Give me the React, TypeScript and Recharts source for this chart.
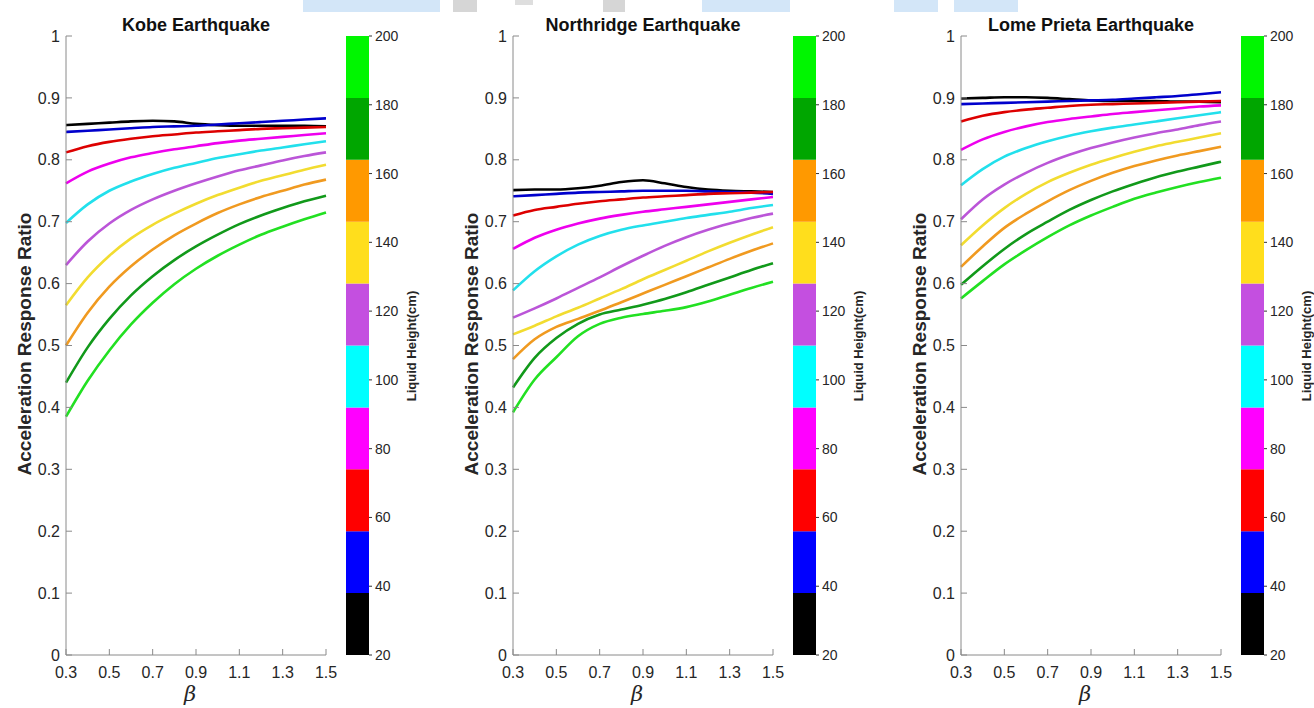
import React from 'react';
import { LineChart, Line, XAxis, YAxis, BarChart, Bar } from 'recharts';

// ---------- data ----------
const betas = [0.3, 0.4, 0.5, 0.6, 0.7, 0.8, 0.9, 1.0, 1.1, 1.2, 1.3, 1.4, 1.5];
const xTicks = [0.3, 0.5, 0.7, 0.9, 1.1, 1.3, 1.5];
const yTicks = [0, 0.1, 0.2, 0.3, 0.4, 0.5, 0.6, 0.7, 0.8, 0.9, 1];
const heights = [20, 40, 60, 80, 100, 120, 140, 160, 180, 200];
const cbTicks = [20, 40, 60, 80, 100, 120, 140, 160, 180, 200];
const titles = ['Kobe Earthquake', 'Northridge Earthquake', 'Lome Prieta Earthquake'];

// Kobe
const kobe20 = [0.856, 0.858, 0.860, 0.862, 0.863, 0.862, 0.858, 0.856, 0.855, 0.855, 0.855, 0.855, 0.854];
const kobe40 = [0.845, 0.847, 0.849, 0.851, 0.853, 0.854, 0.855, 0.857, 0.859, 0.861, 0.863, 0.865, 0.867];
const kobe60 = [0.812, 0.822, 0.829, 0.834, 0.838, 0.841, 0.844, 0.846, 0.848, 0.850, 0.851, 0.852, 0.853];
const kobe80 = [0.762, 0.781, 0.794, 0.804, 0.811, 0.817, 0.822, 0.827, 0.831, 0.834, 0.837, 0.840, 0.843];
const kobe100 = [0.698, 0.728, 0.750, 0.765, 0.777, 0.787, 0.795, 0.803, 0.809, 0.815, 0.820, 0.825, 0.830];
const kobe120 = [0.630, 0.668, 0.697, 0.719, 0.736, 0.750, 0.762, 0.773, 0.783, 0.791, 0.799, 0.806, 0.812];
const kobe140 = [0.565, 0.610, 0.645, 0.673, 0.695, 0.713, 0.729, 0.743, 0.755, 0.766, 0.775, 0.784, 0.792];
const kobe160 = [0.500, 0.553, 0.595, 0.628, 0.655, 0.678, 0.697, 0.714, 0.728, 0.740, 0.750, 0.760, 0.768];
const kobe180 = [0.440, 0.497, 0.543, 0.581, 0.612, 0.638, 0.660, 0.679, 0.696, 0.710, 0.722, 0.733, 0.742];
const kobe200 = [0.385, 0.443, 0.492, 0.534, 0.569, 0.599, 0.624, 0.645, 0.663, 0.679, 0.692, 0.704, 0.715];

// Northridge
const north20 = [0.751, 0.752, 0.752, 0.754, 0.758, 0.764, 0.767, 0.762, 0.756, 0.752, 0.750, 0.749, 0.748];
const north40 = [0.741, 0.743, 0.745, 0.747, 0.748, 0.749, 0.750, 0.750, 0.750, 0.749, 0.748, 0.747, 0.745];
const north60 = [0.710, 0.719, 0.724, 0.729, 0.733, 0.736, 0.739, 0.741, 0.743, 0.745, 0.746, 0.747, 0.748];
const north80 = [0.656, 0.674, 0.687, 0.697, 0.705, 0.711, 0.716, 0.720, 0.724, 0.728, 0.732, 0.736, 0.740];
const north100 = [0.589, 0.620, 0.644, 0.663, 0.677, 0.687, 0.694, 0.700, 0.706, 0.711, 0.716, 0.722, 0.727];
const north120 = [0.545, 0.560, 0.576, 0.593, 0.610, 0.628, 0.645, 0.661, 0.675, 0.687, 0.697, 0.706, 0.713];
const north140 = [0.518, 0.532, 0.547, 0.561, 0.576, 0.591, 0.607, 0.622, 0.637, 0.652, 0.666, 0.679, 0.691];
const north160 = [0.478, 0.510, 0.530, 0.543, 0.556, 0.570, 0.584, 0.598, 0.612, 0.626, 0.640, 0.653, 0.665];
const north180 = [0.432, 0.480, 0.512, 0.535, 0.550, 0.558, 0.566, 0.575, 0.586, 0.598, 0.610, 0.622, 0.633];
const north200 = [0.392, 0.445, 0.481, 0.515, 0.535, 0.545, 0.551, 0.556, 0.562, 0.571, 0.582, 0.593, 0.603];

// Lome Prieta
const lome20 = [0.899, 0.900, 0.901, 0.901, 0.900, 0.898, 0.896, 0.895, 0.895, 0.895, 0.894, 0.894, 0.893];
const lome40 = [0.890, 0.891, 0.892, 0.893, 0.894, 0.895, 0.896, 0.897, 0.899, 0.901, 0.903, 0.906, 0.909];
const lome60 = [0.862, 0.871, 0.877, 0.881, 0.884, 0.887, 0.889, 0.890, 0.891, 0.892, 0.893, 0.894, 0.895];
const lome80 = [0.816, 0.833, 0.845, 0.854, 0.861, 0.866, 0.870, 0.874, 0.877, 0.880, 0.883, 0.886, 0.888];
const lome100 = [0.759, 0.785, 0.805, 0.819, 0.830, 0.839, 0.846, 0.852, 0.857, 0.862, 0.867, 0.872, 0.877];
const lome120 = [0.704, 0.736, 0.760, 0.779, 0.795, 0.808, 0.819, 0.828, 0.836, 0.843, 0.849, 0.856, 0.862];
const lome140 = [0.662, 0.694, 0.722, 0.745, 0.764, 0.779, 0.792, 0.803, 0.813, 0.822, 0.829, 0.836, 0.843];
const lome160 = [0.627, 0.660, 0.690, 0.713, 0.733, 0.751, 0.766, 0.779, 0.790, 0.799, 0.807, 0.814, 0.821];
const lome180 = [0.598, 0.628, 0.656, 0.680, 0.700, 0.719, 0.735, 0.749, 0.761, 0.772, 0.781, 0.789, 0.797];
const lome200 = [0.576, 0.604, 0.631, 0.654, 0.675, 0.694, 0.710, 0.724, 0.737, 0.747, 0.756, 0.764, 0.771];

const kobeSeries = [kobe20, kobe40, kobe60, kobe80, kobe100, kobe120, kobe140, kobe160, kobe180, kobe200];
const northSeries = [north20, north40, north60, north80, north100, north120, north140, north160, north180, north200];
const lomeSeries = [lome20, lome40, lome60, lome80, lome100, lome120, lome140, lome160, lome180, lome200];

// ---------- styles ----------
const lineColors = ['#000000', '#0000cc', '#dd0000', '#ee00ee', '#22e0ec', '#bb55d8', '#f2dc30', '#f09a20', '#11991a', '#22e022'];
const bandColors = ['#000000', '#0000ff', '#ff0000', '#ff00ff', '#00ffff', '#c44fe0', '#ffde1c', '#ff9900', '#00a600', '#00f600'];
const FONT = '"Liberation Sans", Arial, sans-serif';
const tickStyle = { fill: '#262626', fontSize: 16, fontFamily: FONT };
const cbTickStyle = { fill: '#262626', fontSize: 14, fontFamily: FONT };

function buildRows(series: number[][]) {
  return betas.map((b, i) => {
    const row: Record<string, number> = { beta: b };
    heights.forEach((h, k) => {
      row['h' + h] = series[k][i];
    });
    return row;
  });
}

const fmtY = (v: number) => String(Math.round(v * 10) / 10);
const fmtX = (v: number) => v.toFixed(1);
const blank = () => '';

function Panel({ series, offset, title }: { series: number[][]; offset: number; title: string }) {
  const rows = buildRows(series);
  const cbRow: Record<string, any> = { n: 'c', base: 20 };
  heights.forEach((h) => (cbRow['b' + h] = 18));
  return (
    <>
      <div style={{ position: 'absolute', left: offset, top: 0 }}>
        <LineChart width={340} height={708} data={rows} margin={{ top: 36, right: 14, bottom: 23, left: 26 }}>
          <XAxis
            dataKey="beta"
            type="number"
            domain={[0.3, 1.5]}
            ticks={xTicks}
            tickFormatter={fmtX}
            tickSize={-6}
            tickMargin={18}
            height={30}
            interval={0}
            axisLine={{ stroke: '#8a8a8a' }}
            tickLine={{ stroke: '#8a8a8a' }}
            tick={tickStyle}
          />
          <XAxis
            xAxisId="t"
            orientation="top"
            type="number"
            domain={[0.3, 1.5]}
            ticks={xTicks}
            tickFormatter={blank}
            tickSize={-6}
            height={0}
            interval={0}
            axisLine={{ stroke: '#666' }}
            tickLine={{ stroke: '#666' }}
          />
          <YAxis
            type="number"
            domain={[0, 1]}
            ticks={yTicks}
            tickFormatter={fmtY}
            tickSize={-6}
            tickMargin={12}
            width={40}
            interval={0}
            axisLine={{ stroke: '#8a8a8a' }}
            tickLine={{ stroke: '#8a8a8a' }}
            tick={tickStyle}
          />
          <YAxis
            yAxisId="r"
            orientation="right"
            type="number"
            domain={[0, 1]}
            ticks={yTicks}
            tickFormatter={blank}
            tickSize={-6}
            width={0}
            interval={0}
            axisLine={{ stroke: '#555' }}
            tickLine={{ stroke: '#555' }}
          />
          {heights.map((h, k) => (
            <Line
              key={h}
              dataKey={'h' + h}
              type="monotone"
              stroke={lineColors[k]}
              strokeWidth={2.6}
              dot={false}
              isAnimationActive={false}
            />
          ))}
        </LineChart>
      </div>
      <div style={{ position: 'absolute', left: offset + 346, top: 0 }}>
        <BarChart
          width={63}
          height={708}
          data={[cbRow]}
          margin={{ top: 36, right: 0, bottom: 53, left: 0 }}
          barCategoryGap={0}
          barGap={0}
        >
          <XAxis dataKey="n" hide />
          <YAxis
            orientation="right"
            type="number"
            domain={[20, 200]}
            allowDataOverflow
            ticks={cbTicks}
            interval={0}
            width={40}
            tickSize={3}
            tickMargin={3}
            axisLine={false}
            tickLine={{ stroke: '#333' }}
            tick={cbTickStyle}
          />
          <Bar dataKey="base" stackId="s" fill="none" isAnimationActive={false} />
          {heights.map((h, k) => (
            <Bar key={h} dataKey={'b' + h} stackId="s" fill={bandColors[k]} isAnimationActive={false} />
          ))}
        </BarChart>
      </div>
      <svg
        width={460}
        height={708}
        style={{ position: 'absolute', left: offset, top: 0, pointerEvents: 'none', overflow: 'visible' }}
      >
        <text x={196} y={31} textAnchor="middle" fontFamily={FONT} fontWeight="bold" fontSize={18} fill="#111">
          {title}
        </text>
        <text
          x={0}
          y={0}
          transform="translate(31,344) rotate(-90)"
          textAnchor="middle"
          fontFamily={FONT}
          fontWeight="bold"
          fontSize={19}
          fill="#262626"
        >
          Acceleration Response Ratio
        </text>
        <text x={190} y={701} textAnchor="middle" fontFamily='"DejaVu Serif", "Liberation Serif", serif' fontStyle="italic" fontSize={21} fill="#262626">
          β
        </text>
        <text
          x={0}
          y={0}
          transform="translate(415.5,346) rotate(-90)"
          textAnchor="middle"
          fontFamily={FONT}
          fontWeight="bold"
          fontSize={13}
          fill="#262626"
        >
          Liquid Height(cm)
        </text>
      </svg>
    </>
  );
}

export default function App() {
  return (
    <div style={{ position: 'absolute', left: 0, top: 0, width: 1314, height: 708, background: '#fff', overflow: 'hidden' }}>
      <div style={{ position: 'absolute', left: 303, top: 0, width: 137, height: 12, background: '#d3e6f8' }} />
      <div style={{ position: 'absolute', left: 453, top: 0, width: 24, height: 12, background: '#d6d6d6' }} />
      <div style={{ position: 'absolute', left: 515, top: 0, width: 18, height: 5, background: '#dedede' }} />
      <div style={{ position: 'absolute', left: 603, top: 0, width: 22, height: 12, background: '#d6d6d6' }} />
      <div style={{ position: 'absolute', left: 702, top: 0, width: 88, height: 12, background: '#d3e6f8' }} />
      <div style={{ position: 'absolute', left: 894, top: 0, width: 44, height: 12, background: '#d3e6f8' }} />
      <div style={{ position: 'absolute', left: 954, top: 0, width: 64, height: 12, background: '#d3e6f8' }} />
      <Panel series={kobeSeries} offset={0} title={titles[0]} />
      <Panel series={northSeries} offset={447} title={titles[1]} />
      <Panel series={lomeSeries} offset={895} title={titles[2]} />
    </div>
  );
}
